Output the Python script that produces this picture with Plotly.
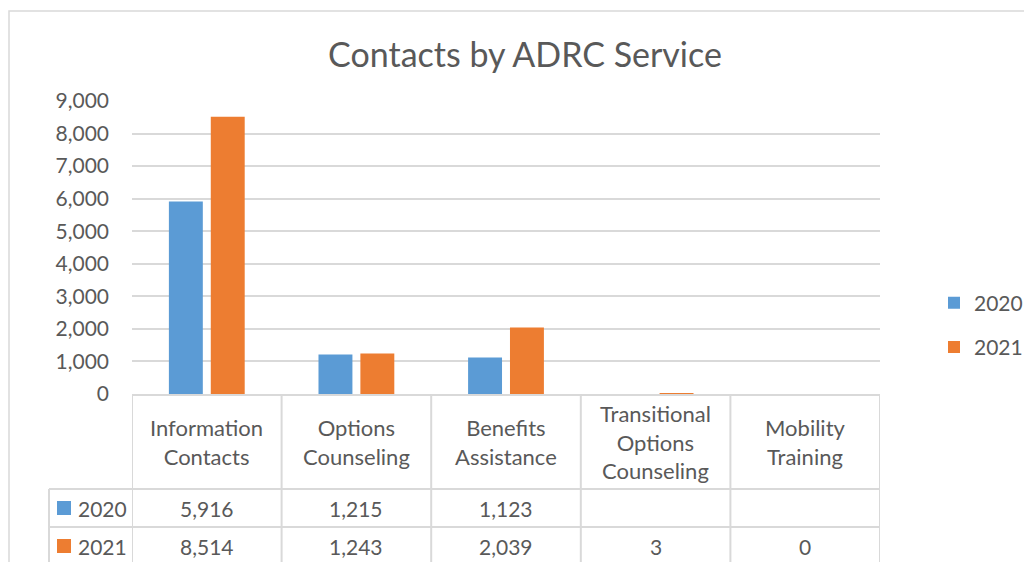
import plotly.graph_objects as go

W, H = 1032, 562

categories = ["Information Contacts", "Options Counseling", "Benefits Assistance",
              "Transitional Options Counseling", "Mobility Training"]
header_labels = ["Information<br>Contacts", "Options<br>Counseling", "Benefits<br>Assistance",
                 "Transitional<br>Options<br>Counseling", "Mobility<br>Training"]
series_names = ["2020", "2021"]
values_2020 = [5916, 1215, 1123, None, None]
values_2021 = [8514, 1243, 2039, 3, 0]
y_ticks = [0, 1000, 2000, 3000, 4000, 5000, 6000, 7000, 8000, 9000]
colors = ["#5B9BD5", "#ED7D31"]

FONT = "Lato"
TXT = "#595959"
GRID = "#D9D9D9"

# the page shows the figure offset by the body margin (8px)
OFF = 8


def px(x):
    return (x - OFF) / W


def py(y):
    return 1 - (y - OFF) / H


plot_left, plot_right = 132, 880
plot_top, plot_bottom = 101, 394

fig = go.Figure()
for name, vals, col in zip(series_names, [values_2020, values_2021], colors):
    fig.add_trace(go.Bar(x=categories, y=vals, name=name, marker=dict(color=col, line=dict(width=0)),
                         legendgroup=name, hoverinfo="x+y"))

shapes = []
annotations = []

# outer chart border
shapes.append(dict(type="rect", xref="paper", yref="paper", x0=px(9), x1=px(1060), y0=py(600), y1=py(11),
                   line=dict(color=GRID, width=1.5), fillcolor="rgba(0,0,0,0)", layer="below"))

# table vertical lines at category boundaries
n = len(categories)
for i in range(n + 1):
    shapes.append(dict(type="line", xref="x", yref="paper", x0=i - 0.5, x1=i - 0.5,
                       y0=py(plot_bottom), y1=py(600), line=dict(color=GRID, width=2)))
# legend column left line
shapes.append(dict(type="line", xref="paper", yref="paper", x0=px(49), x1=px(49),
                   y0=py(489), y1=py(600), line=dict(color=GRID, width=2)))
# horizontal lines
for yy in [489, 527, 565]:
    shapes.append(dict(type="line", xref="paper", yref="paper", x0=px(49), x1=px(plot_right),
                       y0=py(yy), y1=py(yy), line=dict(color=GRID, width=2)))

# header labels
for cat, lab in zip(categories, header_labels):
    annotations.append(dict(x=cat, xref="x", y=py(442), yref="paper", text=lab, showarrow=False,
                            font=dict(family=FONT, size=22, color=TXT), align="center",
                            xanchor="center", yanchor="middle"))

# data rows
row_y = [508, 546]
for name, vals, col, ry in zip(series_names, [values_2020, values_2021], colors, row_y):
    shapes.append(dict(type="rect", xref="paper", yref="paper", x0=px(57), x1=px(71),
                       y0=py(ry + 7), y1=py(ry - 7), fillcolor=col, line=dict(width=0)))
    annotations.append(dict(x=px(76), xref="paper", y=py(ry), yref="paper", text=name, showarrow=False,
                            font=dict(family=FONT, size=21, color=TXT), xanchor="left", yanchor="middle"))
    for cat, v in zip(categories, vals):
        if v is None:
            continue
        annotations.append(dict(x=cat, xref="x", y=py(ry), yref="paper", text=f"{v:,}", showarrow=False,
                                font=dict(family=FONT, size=21, color=TXT), xanchor="center",
                                yanchor="middle"))

fig.update_layout(
    width=W, height=H,
    margin=dict(l=0, r=0, t=0, b=0, autoexpand=False),
    paper_bgcolor="white", plot_bgcolor="white",
    title=dict(text="Contacts by ADRC Service", x=px(525), xanchor="center", y=py(55), yanchor="middle",
               font=dict(family=FONT, size=34, color=TXT)),
    barmode="group", bargap=0.44, bargroupgap=0.19,
    xaxis=dict(domain=[px(plot_left), px(plot_right)], range=[-0.5, n - 0.5], showticklabels=False,
               showgrid=False, zeroline=False, showline=True, linecolor=GRID, linewidth=2, ticks="",
               automargin=False),
    yaxis=dict(domain=[py(plot_bottom), py(plot_top)], range=[0, 9000], tickvals=y_ticks,
               tickformat=",d", showgrid=True, gridcolor=GRID, gridwidth=1.5, zeroline=False,
               showline=False, ticks="", ticklabelstandoff=22, automargin=False,
               tickfont=dict(family=FONT, size=21, color=TXT)),
    legend=dict(x=px(934), xanchor="left", y=py(325), yanchor="middle", traceorder="grouped",
                tracegroupgap=14, font=dict(family=FONT, size=21, color=TXT), bgcolor="rgba(0,0,0,0)",
                itemwidth=30),
    shapes=shapes,
    annotations=annotations,
    showlegend=True,
)

fig.write_html("out.html")
